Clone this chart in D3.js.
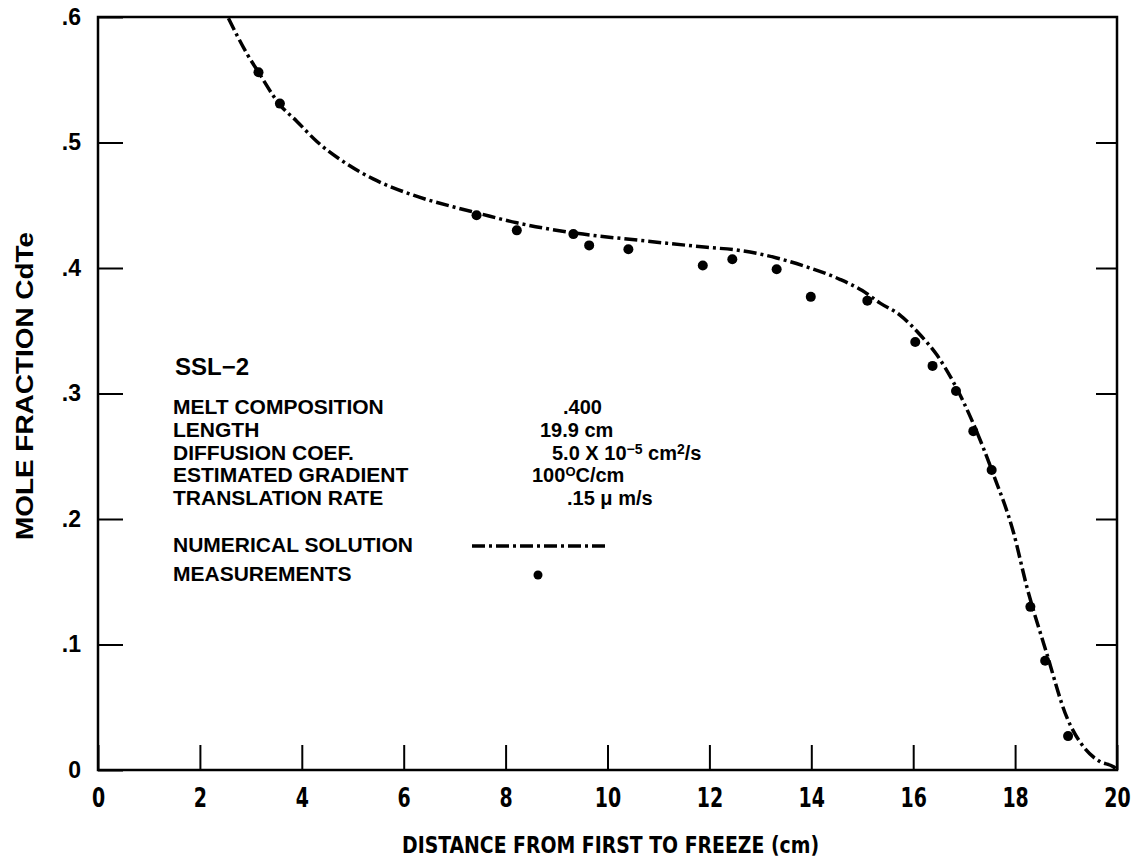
<!DOCTYPE html>
<html>
<head>
<meta charset="utf-8">
<script src="https://cdn.jsdelivr.net/npm/d3@7"></script>
<style>
  body { margin: 0; background: #fff; }
  text { font-family: "Liberation Sans", Arial, sans-serif; font-weight: bold; fill: #000; }
  .narrow { font-family: "Liberation Sans Narrow", "DejaVu Sans Condensed", "Liberation Sans", sans-serif; }
</style>
</head>
<body>
<div id="chart"></div>
<script>
// numerical solution
var curveX = [2.56, 2.92, 3.15, 3.57, 3.90, 4.29, 4.88, 5.40, 6.19, 7.04, 7.43, 8.22, 9.33, 10.64, 11.95, 12.6, 13.32, 13.9, 14.56, 15.0, 15.35, 15.74, 16.13, 16.46, 16.79, 17.18, 17.57, 17.97, 18.23, 18.62, 19.01, 19.34, 19.67, 19.93, 20.0];
var curveY = [0.599, 0.571, 0.556, 0.530, 0.517, 0.501, 0.483, 0.471, 0.458, 0.448, 0.444, 0.436, 0.428, 0.422, 0.4165, 0.414, 0.408, 0.401, 0.391, 0.382, 0.372, 0.3625, 0.347, 0.331, 0.309, 0.276, 0.236, 0.189, 0.146, 0.093, 0.0425, 0.0186, 0.0066, 0.0026, 0];

// measurements
var measX = [3.15, 3.57, 7.43, 8.22, 9.33, 9.64, 10.41, 11.87, 12.45, 13.32, 13.99, 15.1, 16.04, 16.38, 16.84, 17.18, 17.54, 18.30, 18.59, 19.04];
var measY = [0.556, 0.531, 0.442, 0.430, 0.427, 0.418, 0.415, 0.402, 0.407, 0.399, 0.377, 0.374, 0.341, 0.322, 0.302, 0.270, 0.239, 0.130, 0.087, 0.027];

var xTicks = [0, 2, 4, 6, 8, 10, 12, 14, 16, 18, 20];
var yTicks = [0, 0.1, 0.2, 0.3, 0.4, 0.5, 0.6];

var infoLabels = ["MELT COMPOSITION", "LENGTH", "DIFFUSION COEF.", "ESTIMATED GRADIENT", "TRANSLATION RATE"];

var margin = { top: 17, right: 21, bottom: 95, left: 98 },
  width = 1138 - margin.left - margin.right,
  height = 865 - margin.top - margin.bottom;

var svg = d3
  .select("#chart")
  .append("svg")
  .attr("width", 1138)
  .attr("height", 865)
  .append("g")
  .attr("transform", "translate(" + margin.left + "," + margin.top + ")");

var x = d3.scaleLinear().domain([0, 20]).range([0, width]);
var y = d3.scaleLinear().domain([0, 0.6]).range([height, 0]);

var yFmt = function (d) {
  return d === 0 ? "0" : d3.format(".1f")(d).replace(/^0/, "");
};

// frame
svg
  .append("rect")
  .attr("x", x(0))
  .attr("y", y(0.6))
  .attr("width", x(20) - x(0))
  .attr("height", y(0) - y(0.6))
  .attr("fill", "none")
  .attr("stroke", "#000")
  .attr("stroke-width", 2.5);

// bottom axis, ticks pointing in
var gx = svg
  .append("g")
  .attr("transform", "translate(0," + height + ")")
  .call(d3.axisBottom(x).tickValues(xTicks).tickSize(-25).tickSizeOuter(0).tickPadding(18));
gx.select(".domain").remove();
gx.selectAll(".tick line").attr("stroke", "#000").attr("stroke-width", 2);
gx.selectAll(".tick text")
  .attr("class", "narrow")
  .attr("transform", "scale(0.78,1)")
  .style("font-size", "27px")
  .style("font-weight", "bold");

// left axis
var gy = svg
  .append("g")
  .call(d3.axisLeft(y).tickValues(yTicks).tickFormat(yFmt).tickSize(-25).tickSizeOuter(0).tickPadding(17));
gy.select(".domain").remove();
gy.selectAll(".tick line").attr("stroke", "#000").attr("stroke-width", 2);
gy.selectAll(".tick text")
  .style("font-size", "23px")
  .style("font-weight", "bold")
  .style("font-family", "'Liberation Sans', Arial, sans-serif");

// right axis, ticks only
var gr = svg
  .append("g")
  .attr("transform", "translate(" + width + ",0)")
  .call(d3.axisRight(y).tickValues([0.1, 0.2, 0.3, 0.4, 0.5]).tickFormat("").tickSize(-21).tickSizeOuter(0));
gr.select(".domain").remove();
gr.selectAll(".tick line").attr("stroke", "#000").attr("stroke-width", 2);

// axis titles
svg
  .append("text")
  .attr("class", "narrow")
  .attr("x", x(10) + 3)
  .attr("y", height + 83)
  .attr("text-anchor", "middle")
  .attr("textLength", 417)
  .attr("lengthAdjust", "spacingAndGlyphs")
  .style("font-size", "23px")
  .text("DISTANCE FROM FIRST TO FREEZE (cm)");

svg
  .append("text")
  .attr("transform", "translate(" + (33 - margin.left) + "," + (386 - margin.top) + ") rotate(-90)")
  .attr("text-anchor", "middle")
  .attr("textLength", 308)
  .attr("lengthAdjust", "spacingAndGlyphs")
  .style("font-size", "24px")
  .text("MOLE FRACTION CdTe");

// numerical solution curve
var pts = curveX.map(function (d, i) { return [d, curveY[i]]; });
var line = d3
  .line()
  .x(function (d) { return x(d[0]); })
  .y(function (d) { return y(d[1]); })
  .curve(d3.curveMonotoneX);

svg
  .append("path")
  .datum(pts)
  .attr("fill", "none")
  .attr("stroke", "#000")
  .attr("stroke-width", 3.5)
  .attr("stroke-dasharray", "13,4,3,4")
  .attr("d", line);

// measurements
svg
  .selectAll(".meas")
  .data(measX)
  .enter()
  .append("circle")
  .attr("class", "meas")
  .attr("cx", function (d) { return x(d); })
  .attr("cy", function (d, i) { return y(measY[i]); })
  .attr("r", 5)
  .attr("fill", "#000");

// info block (page coords -> group coords)
var info = svg.append("g").attr("transform", "translate(" + -margin.left + "," + -margin.top + ")");

info.append("text").attr("x", 175).attr("y", 375).style("font-size", "24px").text("SSL\u22122");

info
  .selectAll(".lbl")
  .data(infoLabels)
  .enter()
  .append("text")
  .attr("class", "lbl")
  .attr("x", 173)
  .attr("y", function (d, i) { return 414 + i * 22.8; })
  .style("font-size", "21px")
  .text(function (d) { return d; });

info.append("text").attr("x", 563).attr("y", 414).style("font-size", "20px").text(".400");
info.append("text").attr("x", 540).attr("y", 437).style("font-size", "20px").text("19.9 cm");

var v3 = info.append("text").attr("x", 552).attr("y", 460).style("font-size", "20px");
v3.append("tspan").text("5.0 X 10");
v3.append("tspan").attr("dy", -6).style("font-size", "14px").text("\u22125");
v3.append("tspan").attr("dy", 6).text(" cm");
v3.append("tspan").attr("dy", -6).style("font-size", "14px").text("2");
v3.append("tspan").attr("dy", 6).text("/s");

var v4 = info.append("text").attr("x", 532).attr("y", 482).style("font-size", "20px");
v4.append("tspan").text("100");
v4.append("tspan").attr("dy", -6).style("font-size", "13px").text("O");
v4.append("tspan").attr("dy", 6).text("C/cm");

info.append("text").attr("x", 567).attr("y", 505).style("font-size", "20px").text(".15  \u03bc m/s");

info.append("text").attr("x", 173).attr("y", 552).style("font-size", "21px").text("NUMERICAL SOLUTION");
info.append("text").attr("x", 173).attr("y", 581).style("font-size", "21px").text("MEASUREMENTS");

// legend symbols
info
  .append("line")
  .attr("x1", 472)
  .attr("x2", 605)
  .attr("y1", 546)
  .attr("y2", 546)
  .attr("stroke", "#000")
  .attr("stroke-width", 3.5)
  .attr("stroke-dasharray", "13,4,3,4");

info.append("circle").attr("cx", 538).attr("cy", 575).attr("r", 4.5).attr("fill", "#000");
</script>
</body>
</html>
